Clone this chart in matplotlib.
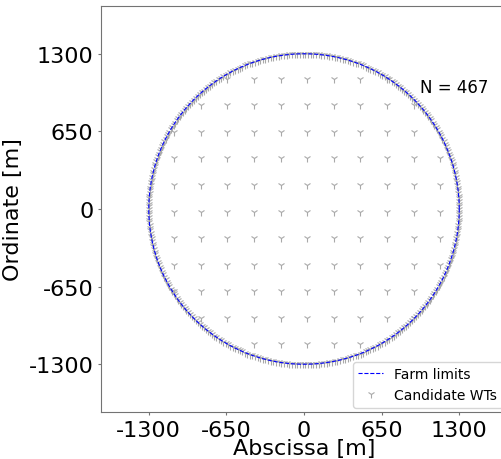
#Candidate wind turbine positions inside a circular farm.

import matplotlib
matplotlib.use('Agg')
import matplotlib.pyplot as plt
import numpy as np


# Farm data
farm_radius = 1300
n_boundary = 362          # candidate WTs placed along the farm limits
grid_x = [-1086, -863, -641, -418, -196, 27, 250, 472, 695, 917, 1140]
grid_y = [-1134, -911, -689, -466, -244, -21, 202, 424, 647, 869, 1092]
tick_values = [-1300, -650, 0, 650, 1300]
tick_labels = ['-1300', '-650', '0', '650', '1300']

# Boundary positions
theta = np.linspace(0, 2 * np.pi, n_boundary, endpoint=False)
bx = farm_radius * np.cos(theta)
by = farm_radius * np.sin(theta)

# Interior grid positions, kept only inside the farm
gx, gy = np.meshgrid(grid_x, grid_y)
gx = gx.ravel()
gy = gy.ravel()
inside = gx**2 + gy**2 < farm_radius**2
gx = gx[inside]
gy = gy[inside]

wt_x = np.concatenate([bx, gx])
wt_y = np.concatenate([by, gy])

# Farm limit line
lim_t = np.linspace(0, 2 * np.pi, 400)
lim_x = farm_radius * np.cos(lim_t)
lim_y = farm_radius * np.sin(lim_t)

# Plotting
fig = plt.figure(figsize=(5.02, 4.60), dpi=100)
ax = fig.add_axes([101 / 502, 47 / 460, 406 / 502, 406 / 460])
ax.plot(lim_x, lim_y, linestyle='--', color='blue', linewidth=0.8, label='Farm limits', zorder=3)
ax.plot(wt_x, wt_y, linestyle='none', marker='1', markersize=5.5, color='darkgray',
        markeredgewidth=0.8, label='Candidate WTs', zorder=2)

ax.set_xlim(-1700, 1700)
ax.set_ylim(-1700, 1700)
ax.set_aspect('equal')
ax.set_xticks(tick_values)
ax.set_xticklabels(tick_labels)
ax.set_yticks(tick_values)
ax.set_yticklabels(tick_labels)
ax.tick_params(labelsize=16, length=2.5, color='0.45', pad=3)
for s in ax.spines.values():
    s.set_color('0.45')
ax.set_xlabel('Abscissa [m]', fontsize=16, labelpad=-1)
ax.set_ylabel('Ordinate [m]', fontsize=16)
ax.text(975, 1020, 'N = %d' % len(wt_x), fontsize=12, va='center', ha='left')
ax.legend(loc='lower right', fontsize=10, borderaxespad=0.3, handlelength=1.8)

plt.savefig('out.png', dpi=100)
